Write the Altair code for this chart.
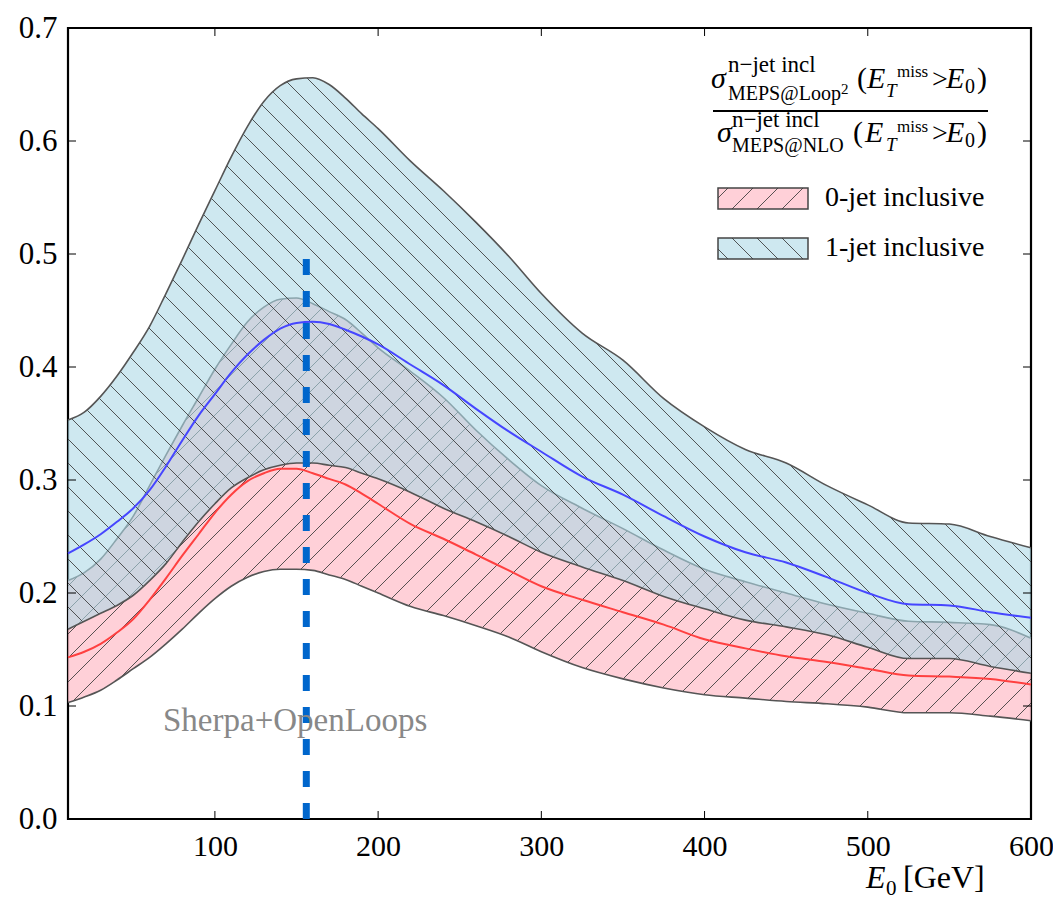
import altair as alt
import numpy as np
import pandas as pd

# ---------------- data ----------------
E0 = [10, 20, 30, 40, 50, 60, 70, 80, 90, 100, 110, 120, 130, 140, 150, 160, 170, 180, 190, 200,
      220, 240, 260, 280, 300, 325, 350, 375, 400, 425, 450, 475, 500, 525, 550, 575, 600]

jet1_hi = [0.353, 0.360, 0.374, 0.392, 0.413, 0.436, 0.465, 0.495, 0.526, 0.556, 0.586, 0.613, 0.635,
           0.649, 0.655, 0.656, 0.650, 0.638, 0.624, 0.611, 0.582, 0.556, 0.528, 0.498, 0.465, 0.430,
           0.406, 0.372, 0.347, 0.327, 0.315, 0.295, 0.278, 0.262, 0.261, 0.250, 0.240]
jet1_mid = [0.235, 0.243, 0.252, 0.263, 0.275, 0.291, 0.312, 0.335, 0.357, 0.376, 0.395, 0.411, 0.424,
            0.434, 0.439, 0.440, 0.438, 0.433, 0.427, 0.420, 0.402, 0.384, 0.363, 0.343, 0.325, 0.303,
            0.287, 0.268, 0.250, 0.236, 0.227, 0.214, 0.200, 0.190, 0.189, 0.183, 0.178]
jet1_lo = [0.168, 0.175, 0.182, 0.189, 0.198, 0.211, 0.226, 0.245, 0.263, 0.279, 0.293, 0.302, 0.309,
           0.313, 0.315, 0.315, 0.313, 0.311, 0.306, 0.301, 0.289, 0.275, 0.263, 0.250, 0.236, 0.223,
           0.211, 0.197, 0.186, 0.176, 0.170, 0.163, 0.152, 0.142, 0.142, 0.135, 0.129]

jet0_hi = [0.211, 0.218, 0.230, 0.248, 0.268, 0.295, 0.322, 0.348, 0.373, 0.398, 0.420, 0.440, 0.453,
           0.460, 0.461, 0.456, 0.449, 0.442, 0.430, 0.417, 0.396, 0.373, 0.344, 0.318, 0.295, 0.275,
           0.257, 0.238, 0.221, 0.210, 0.200, 0.190, 0.182, 0.175, 0.174, 0.172, 0.160]
jet0_mid = [0.143, 0.148, 0.155, 0.165, 0.177, 0.194, 0.213, 0.233, 0.252, 0.271, 0.287, 0.299, 0.306,
            0.310, 0.310, 0.306, 0.301, 0.296, 0.288, 0.279, 0.261, 0.248, 0.234, 0.220, 0.206, 0.194,
            0.183, 0.172, 0.159, 0.151, 0.144, 0.139, 0.133, 0.127, 0.126, 0.124, 0.119]
jet0_lo = [0.103, 0.108, 0.114, 0.123, 0.133, 0.143, 0.155, 0.168, 0.182, 0.195, 0.206, 0.214, 0.219,
           0.221, 0.221, 0.220, 0.216, 0.212, 0.206, 0.200, 0.188, 0.180, 0.171, 0.161, 0.148, 0.134,
           0.124, 0.116, 0.110, 0.107, 0.104, 0.102, 0.099, 0.094, 0.094, 0.091, 0.087]

X_TICKS = [100, 200, 300, 400, 500, 600]
Y_TICKS = [0.0, 0.1, 0.2, 0.3, 0.4, 0.5, 0.6, 0.7]
DASH_E0 = 156
DASH_TOP = 0.5

# ---------------- layout / style ----------------
XMIN, XMAX = 10, 600
YMIN, YMAX = 0.0, 0.7
W, H = 963, 791
SERIF = "Liberation Serif"
PINK, PINK_A = "#ffc0cb", 0.75
LBLUE, LBLUE_A = "#add8e6", 0.6
EDGE = "#555555"
HATCH = "#3a3a3a"
INTERP = "monotone"

xs = alt.Scale(domain=[XMIN, XMAX], nice=False, zero=False)
ys = alt.Scale(domain=[YMIN, YMAX], nice=False, zero=False)
AX = alt.Axis(values=X_TICKS, ticks=False, domain=False, grid=False, labelPadding=12,
              labelFontSize=30, labelFont=SERIF, labelColor="black", labelFlush=False, title=None)
AY = alt.Axis(values=Y_TICKS, format=".1f", ticks=False, domain=False, grid=False, labelPadding=11,
              labelFontSize=31, labelFont=SERIF, labelColor="black", labelFlush=False, title=None)

df = pd.DataFrame({"E0": E0, "j1h": jet1_hi, "j1m": jet1_mid, "j1l": jet1_lo,
                   "j0h": jet0_hi, "j0m": jet0_mid, "j0l": jet0_lo})
one = pd.DataFrame({"k": [0]})


def monotone_eval(xk, yk, xq):
    """Monotone cubic evaluation, used only to place hatch lines inside the bands."""
    xk = np.asarray(xk, float); yk = np.asarray(yk, float)
    h = np.diff(xk); d = np.diff(yk) / h
    m = np.zeros_like(yk)
    m[0], m[-1] = d[0], d[-1]
    for i in range(1, len(xk) - 1):
        if d[i - 1] * d[i] <= 0:
            m[i] = 0.0
        else:
            m[i] = (h[i - 1] * d[i] + h[i] * d[i - 1]) / (h[i - 1] + h[i])
            lim = 3 * min(abs(d[i - 1]), abs(d[i]))
            m[i] = np.sign(m[i]) * min(abs(m[i]), lim)
    idx = np.clip(np.searchsorted(xk, xq) - 1, 0, len(xk) - 2)
    t = (xq - xk[idx]) / h[idx]
    h00 = 2 * t**3 - 3 * t**2 + 1; h10 = t**3 - 2 * t**2 + t
    h01 = -2 * t**3 + 3 * t**2; h11 = t**3 - t**2
    return h00 * yk[idx] + h10 * h[idx] * m[idx] + h01 * yk[idx + 1] + h11 * h[idx] * m[idx + 1]


def hatch_segments(lo, hi, direction, spacing=24.0, phase=0.0):
    sx = (np.array(E0, float) - XMIN) / (XMAX - XMIN) * W
    ylo = (YMAX - np.array(lo, float)) / (YMAX - YMIN) * H
    yhi = (YMAX - np.array(hi, float)) / (YMAX - YMIN) * H
    xf = np.linspace(0, W, int(W * 4) + 1)
    flo = monotone_eval(sx, ylo, xf)
    fhi = monotone_eval(sx, yhi, xf)
    if direction == "/":
        cs = np.arange(phase, W + H + spacing, spacing)
    else:
        cs = np.arange(-W - spacing + phase, H + spacing, spacing)
    rows = []
    for c in cs:
        yy = (c - xf) if direction == "/" else (xf + c)
        inside = (yy >= fhi) & (yy <= flo)
        if not inside.any():
            continue
        idx = np.flatnonzero(inside)
        br = np.flatnonzero(np.diff(idx) > 1)
        starts = np.r_[idx[0], idx[br + 1]]
        ends = np.r_[idx[br], idx[-1]]
        for s, e in zip(starts, ends):
            if e - s < 2:
                continue
            rows.append({
                "x": XMIN + xf[s] / W * (XMAX - XMIN), "y": YMAX - yy[s] / H * (YMAX - YMIN),
                "x2": XMIN + xf[e] / W * (XMAX - XMIN), "y2": YMAX - yy[e] / H * (YMAX - YMIN),
            })
    return pd.DataFrame(rows)


h0 = hatch_segments(jet0_lo, jet0_hi, "/", phase=6)
h1 = hatch_segments(jet1_lo, jet1_hi, "\\", phase=6)


def X(f):
    return alt.X(f, scale=xs, axis=AX, title=None)


def Y(f):
    return alt.Y(f, scale=ys, axis=AY, title=None)


base = alt.Chart(df)

pink_area = base.mark_area(color=PINK, opacity=PINK_A, interpolate=INTERP).encode(
    x=X("E0:Q"), y=Y("j0l:Q"), y2="j0h:Q")
pink_hatch = alt.Chart(h0).mark_rule(color=HATCH, strokeWidth=1, opacity=0.85).encode(
    x=X("x:Q"), y=Y("y:Q"), x2="x2:Q", y2="y2:Q")
pink_lo = base.mark_line(color=EDGE, strokeWidth=1.6, interpolate=INTERP).encode(x=X("E0:Q"), y=Y("j0l:Q"))
pink_hi = base.mark_line(color=EDGE, strokeWidth=1.6, interpolate=INTERP).encode(x=X("E0:Q"), y=Y("j0h:Q"))

blue_area = base.mark_area(color=LBLUE, opacity=LBLUE_A, interpolate=INTERP).encode(
    x=X("E0:Q"), y=Y("j1l:Q"), y2="j1h:Q")
blue_hatch = alt.Chart(h1).mark_rule(color=HATCH, strokeWidth=1, opacity=0.85).encode(
    x=X("x:Q"), y=Y("y:Q"), x2="x2:Q", y2="y2:Q")
blue_lo = base.mark_line(color=EDGE, strokeWidth=1.6, interpolate=INTERP).encode(x=X("E0:Q"), y=Y("j1l:Q"))
blue_hi = base.mark_line(color=EDGE, strokeWidth=1.6, interpolate=INTERP).encode(x=X("E0:Q"), y=Y("j1h:Q"))

red_mid = base.mark_line(color="#ff4040", strokeWidth=2, interpolate=INTERP).encode(x=X("E0:Q"), y=Y("j0m:Q"))
blue_mid = base.mark_line(color="#4646ff", strokeWidth=2, interpolate=INTERP).encode(x=X("E0:Q"), y=Y("j1m:Q"))

dash_df = pd.DataFrame({"x": [DASH_E0], "y": [0.0], "y2": [DASH_TOP]})
dash = alt.Chart(dash_df).mark_rule(color="#0066cc", strokeWidth=7, strokeDash=[16, 16]).encode(
    x=X("x:Q"), y=Y("y:Q"), y2="y2:Q")

# inward tick marks on all four sides
xt = pd.DataFrame({"v": X_TICKS})
yt = pd.DataFrame({"v": Y_TICKS})
TL = 8
tick_layers = [
    alt.Chart(xt).mark_rule(color="black", strokeWidth=1).encode(x=X("v:Q"), y=alt.value(H), y2=alt.value(H - TL)),
    alt.Chart(xt).mark_rule(color="black", strokeWidth=1).encode(x=X("v:Q"), y=alt.value(0), y2=alt.value(TL)),
    alt.Chart(yt).mark_rule(color="black", strokeWidth=1).encode(y=Y("v:Q"), x=alt.value(0), x2=alt.value(TL)),
    alt.Chart(yt).mark_rule(color="black", strokeWidth=1).encode(y=Y("v:Q"), x=alt.value(W), x2=alt.value(W - TL)),
]

OX, OY = 68, 28  # plot origin in page pixels


def txt(s, x, y, size, style="normal", color="black", align="left"):
    return alt.Chart(one).mark_text(text=s, font=SERIF, fontSize=size, fontStyle=style,
                                    color=color, align=align, baseline="alphabetic").encode(
        x=alt.value(x - OX), y=alt.value(y - OY))


def hline(x0, x1, y0, y1, color, width=1.0, opacity=1.0):
    return alt.Chart(one).mark_rule(color=color, strokeWidth=width, opacity=opacity).encode(
        x=alt.value(x0 - OX), x2=alt.value(x1 - OX), y=alt.value(y0 - OY), y2=alt.value(y1 - OY))


def legend_box(x0, x1, y0, y1, fill, alpha, direction, spacing=25.0, phase=10.0):
    layers = [alt.Chart(one).mark_rect(fill=fill, fillOpacity=alpha, stroke="#444444", strokeWidth=1.5).encode(
        x=alt.value(x0 - OX), x2=alt.value(x1 - OX), y=alt.value(y0 - OY), y2=alt.value(y1 - OY))]
    c = x0 + phase
    hgt = y1 - y0
    while c < x1 + hgt:
        if direction == "/":
            xa, ya = c - hgt, y1
            xb, yb = c, y0
        else:
            xa, ya = c - hgt, y0
            xb, yb = c, y1
        if xa < x0:
            t = (x0 - xa) / (xb - xa)
            xa, ya = x0, ya + t * (yb - ya)
        if xb > x1:
            t = (xb - x1) / (xb - xa)
            xb, yb = x1, yb - t * (yb - ya)
        if xb - xa > 1:
            layers.append(hline(xa, xb, ya, yb, HATCH, 1.0, 0.85))
        c += spacing
    return layers


legend = []
legend += legend_box(718, 808, 188, 209, PINK, PINK_A, "/")
legend += legend_box(718, 808, 238, 259, LBLUE, LBLUE_A, "\\")
legend += [txt("0-jet inclusive", 825, 206, 28), txt("1-jet inclusive", 825, 256, 28)]

# fraction in legend title
frac = [
    txt("σ", 711, 88, 30, "italic"),
    txt("n−jet incl", 728, 72, 23),
    txt("MEPS@Loop", 728, 100, 20),
    txt("2", 841, 94, 15),
    txt("(", 857, 88, 30),
    txt("E", 867, 88, 30, "italic"),
    txt("miss", 897, 77, 17),
    txt("T", 886, 97, 19, "italic"),
    txt(">", 932, 88, 28),
    txt("E", 946, 88, 30, "italic"),
    txt("0", 965, 93, 20),
    txt(")", 977, 88, 30),
    hline(713, 988, 111, 111, "black", 2),
    txt("σ", 717, 142, 30, "italic"),
    txt("n−jet  incl", 732, 127, 23),
    txt("MEPS@NLO", 732, 152, 20),
    txt("(", 853, 142, 30),
    txt("E", 865, 142, 30, "italic"),
    txt("miss", 897, 132, 17),
    txt("T", 886, 151, 19, "italic"),
    txt(">", 932, 142, 28),
    txt("E", 946, 142, 30, "italic"),
    txt("0", 965, 147, 20),
    txt(")", 977, 142, 30),
]

annot = [
    txt("Sherpa+OpenLoops", 163, 731, 33, color="#888888"),
    txt("E", 866, 888, 32, "italic"),
    txt("0", 886, 895, 21),
    txt("[GeV]", 903, 888, 32),
]

chart = alt.layer(
    pink_area, pink_hatch, pink_lo, pink_hi,
    blue_area, blue_hatch, blue_lo, blue_hi,
    red_mid, blue_mid, dash,
    *tick_layers, *legend, *frac, *annot,
).properties(
    width=W, height=H,
    autosize=alt.AutoSizeParams(type="none"),
    padding={"left": OX, "top": OY, "right": 1053 - OX - W, "bottom": 900 - OY - H},
    background="white",
).configure_view(stroke="black", strokeWidth=2.2)

chart.save("out.html", embed_options={"renderer": "svg", "actions": False})
